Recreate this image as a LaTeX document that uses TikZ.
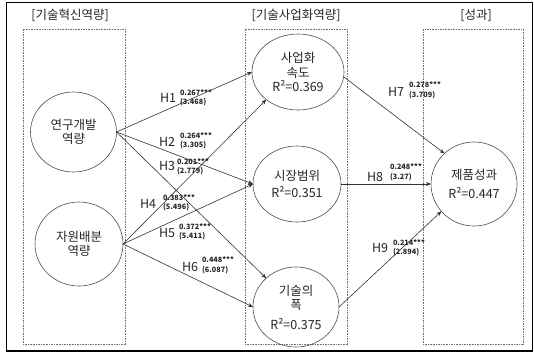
\documentclass[tikz,border=0pt]{standalone}
\usepackage{fontspec}
\setmainfont{Noto Sans CJK KR}
\usetikzlibrary{shapes.geometric,arrows.meta}
\begin{document}
\begin{tikzpicture}[x=1pt,y=-1pt,
  every node/.style={inner sep=0pt, outer sep=0pt, text=black!85},
  frame/.style={draw=black, line width=1.2pt},
  groupbox/.style={draw=black!55, line width=0.6pt, dash pattern=on 1.6pt off 1pt},
  construct/.style={ellipse, draw=black!70, line width=0.6pt, align=center, font=\fontsize{12.5}{14.5}\selectfont},
  title/.style={font=\fontsize{12.5}{15}\selectfont},
  hyp/.style={font=\fontsize{12.5}{15}\selectfont, anchor=west},
  coef/.style={font=\bfseries\fontsize{7.3}{9.5}\selectfont, align=left, anchor=west},
  pathline/.style={draw=black!80, line width=0.6pt, -{Stealth[length=5pt,width=4pt]}}
]
\useasboundingbox (0,0) rectangle (534,357);
\draw[frame] (6.5,2.5) rectangle (532.5,351);
% group boxes
\draw[groupbox] (23,29) rectangle (125,344);
\draw[groupbox] (245,29) rectangle (347,344);
\draw[groupbox] (423,29) rectangle (523,344);
% titles
\node[title] (t1) at (70,15) {[기술혁신역량]};
\node[title] (t2) at (296,15) {[기술사업화역량]};
\node[title] (t3) at (476,15) {[성과]};
% constructs
\node[construct, minimum width=86pt, minimum height=80pt] (rd) at (73.5,132) {연구개발\\역량};
\node[construct, minimum width=88pt, minimum height=84pt] (ja) at (79,244) {자원배분\\역량};
\node[construct, minimum width=92pt, minimum height=76pt] (sh) at (298,72) {사업화\\속도\\R²=0.369};
\node[construct, minimum width=88pt, minimum height=76pt] (sj) at (297,184) {시장범위\\[3pt]R²=0.351};
\node[construct, minimum width=86pt, minimum height=80pt] (gp) at (296,307) {기술의\\폭\\[5pt]R²=0.375};
\node[construct, minimum width=86pt, minimum height=84pt] (jp) at (474,184) {제품성과\\[5pt]R²=0.447};
% paths
\draw[pathline] (rd.east) -- (sh.west);
\draw[pathline] (rd.east) -- (sj.west);
\draw[pathline] (rd.east) -- (gp.136);
\draw[pathline] (ja.east) -- (sh.221);
\draw[pathline] (ja.east) -- (sj.west);
\draw[pathline] (ja.east) -- (gp.west);
\draw[pathline] (sh.-6) -- (jp.134);
\draw[pathline] (sj.east) -- (jp.west);
\draw[pathline] (gp.east) -- (jp.220);
% hypothesis labels
\node[hyp] (h1) at (160,98) {H1};
\node[coef] (c1) at (180,98) {0.267***\\(3.468)};
\node[hyp] (h2) at (159,142) {H2};
\node[coef] (c2) at (180,141) {0.264***\\(3.305)};
\node[hyp] (h3) at (159,166) {H3};
\node[coef] (c3) at (177,167) {0.201***\\(2.779)};
\node[hyp] (h4) at (140,204) {H4};
\node[coef] (c4) at (163,203) {0.383***\\(5.496)};
\node[hyp] (h5) at (159,233) {H5};
\node[coef] (c5) at (179,232) {0.372***\\(5.411)};
\node[hyp] (h6) at (182,267) {H6};
\node[coef] (c6) at (202,265.5) {0.448***\\(6.087)};
\node[hyp] (h7) at (388,92) {H7};
\node[coef] (c7) at (409,90.5) {0.278***\\(3.709)};
\node[hyp] (h8) at (367,177) {H8};
\node[coef] (c8) at (390,172.5) {0.248***\\(3.27)};
\node[hyp] (h9) at (372,248) {H9};
\node[coef] (c9) at (393,248) {0.214***\\(2.894)};
\end{tikzpicture}
\end{document}
